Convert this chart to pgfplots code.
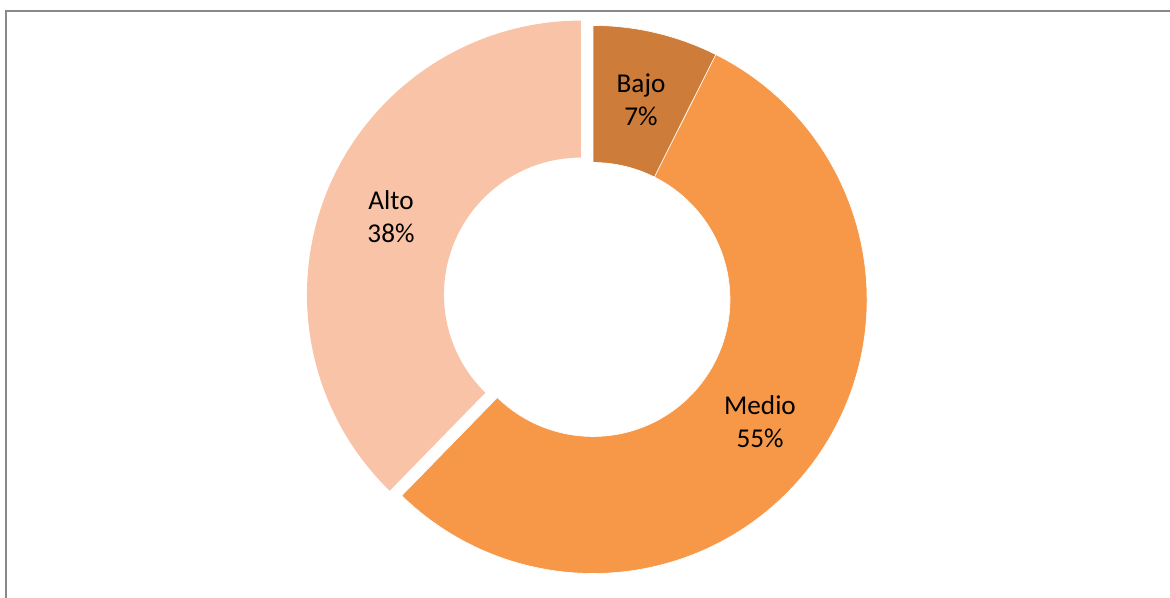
\documentclass[border=0pt]{standalone}
\usepackage{pgfplots}
\usepackage{pgfplotstable}
\usepackage{fontspec}
\setmainfont{Carlito}
\pgfplotsset{compat=1.18}

\definecolor{bajo}{RGB}{205,124,58}
\definecolor{medio}{RGB}{247,151,72}
\definecolor{alto}{RGB}{249,195,168}
\definecolor{frame}{RGB}{137,137,137}

% share of each level (%)
\pgfplotstableread{
label value
Bajo 7.4
Medio 54.9
Alto 37.7
}\donutdata

\begin{document}
\begin{tikzpicture}
\pgfplotstablegetelem{0}{value}\of\donutdata \let\vA\pgfplotsretval
\pgfplotstablegetelem{1}{value}\of\donutdata \let\vB\pgfplotsretval
\pgfplotstablegetelem{2}{value}\of\donutdata \let\vC\pgfplotsretval
\pgfmathsetmacro\aA{90}
\pgfmathsetmacro\aB{\aA-3.6*\vA}
\pgfmathsetmacro\aC{\aB-3.6*\vB}
\pgfmathsetmacro\aD{\aC-3.6*\vC}
\pgfmathsetmacro\mC{(\aC+\aD)/2}
\begin{axis}[
    x=0.5pt, y=0.5pt,
    xmin=0, xmax=1170, ymin=0, ymax=598,
    hide axis,
]
\path (axis cs:0,0) rectangle (axis cs:1170,598);
\draw[frame, line width=1.1pt] (axis cs:6,0) -- (axis cs:6,587) -- (axis cs:1170,587);
% slices: outer radius 137pt, inner 68.5pt
\fill[bajo, draw=white, line width=0.3pt, shift={(axis cs:593,298.5)}]
  (\aA:137pt) arc[start angle=\aA, end angle=\aB, radius=137pt]
  -- (\aB:68.5pt) arc[start angle=\aB, end angle=\aA, radius=68.5pt] -- cycle;
\fill[medio, draw=white, line width=0.3pt, shift={(axis cs:593,298.5)}]
  (\aB:137pt) arc[start angle=\aB, end angle=\aC, radius=137pt]
  -- (\aC:68.5pt) arc[start angle=\aC, end angle=\aB, radius=68.5pt] -- cycle;
\fill[alto, shift={(axis cs:593,298.5)}, shift={(\mC:6.5pt)}]
  (\aC:137pt) arc[start angle=\aC, end angle=\aD, radius=137pt]
  -- (\aD:68.5pt) arc[start angle=\aD, end angle=\aC, radius=68.5pt] -- cycle;
\node[align=center, font=\fontsize{13.6}{16.4}\selectfont] at (axis cs:641,498) {Bajo\\7\%};
\node[align=center, font=\fontsize{13.6}{16.4}\selectfont] at (axis cs:760,176) {Medio\\55\%};
\node[align=center, font=\fontsize{13.6}{16.4}\selectfont] at (axis cs:391,381) {Alto\\38\%};
\end{axis}
\end{tikzpicture}
\end{document}
